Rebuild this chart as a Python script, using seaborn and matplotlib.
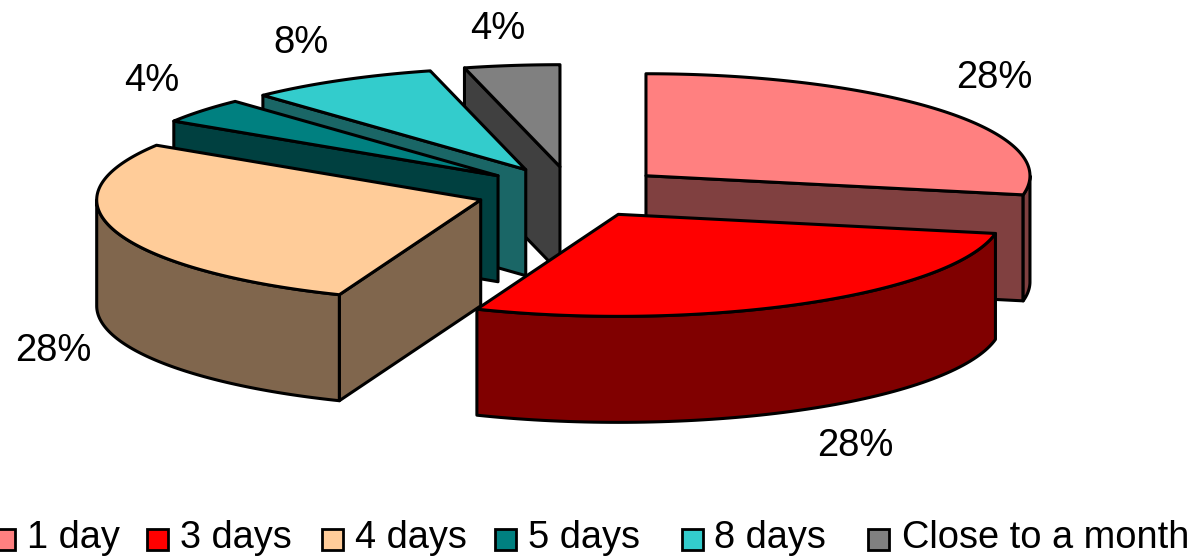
import numpy as np
import matplotlib.pyplot as plt
import seaborn as sns

categories = ['1 day', '3 days', '4 days', '5 days', '8 days', 'Close to a month']
shares = [28, 28, 28, 4, 8, 4]
colors = ['#FF8080', '#FF0000', '#FFCC99', '#008080', '#33CCCC', '#808080']

# pie geometry, in pixels
center = (572, 192)
rx, ry = 384, 102
depth = 106
explode = 0.25

label_xy = [(994, 78), (855, 446), (53, 351), (152, 81), (301, 43), (498, 29)]
legend_x = [-6, 147, 322, 495, 682, 868]
text_x = [27, 180, 355, 528, 714, 902]

sns.set_theme(style='white')
plt.rcParams['font.family'] = ['Liberation Sans', 'DejaVu Sans']
palette = sns.color_palette(colors)

fig = plt.figure(figsize=(12, 5.58), dpi=100)
ax = fig.add_axes([0, 0, 1, 1])
ax.set_xlim(0, 1200)
ax.set_ylim(558, 0)
ax.axis('off')


def point(cx, cy, deg):
    # clockwise from 12 o'clock
    t = np.radians(deg)
    return cx + rx * np.sin(t), cy - ry * np.cos(t)


# slice angles from the values
ends = np.cumsum(shares) / np.sum(shares) * 360
starts = np.concatenate([[0], ends[:-1]])

# back to front
for i in [0, 5, 4, 3, 2, 1]:
    a, b = starts[i], ends[i]
    mid = (a + b) / 2
    cx, cy = point(center[0], center[1], mid)
    cx = center[0] + (cx - center[0]) * explode
    cy = center[1] + (cy - center[1]) * explode
    side = tuple(np.array(palette[i]) * 0.5)

    # flat cut faces that look towards the viewer
    for deg, visible in [(a, np.sin(np.radians(a)) < -1e-6), (b, np.sin(np.radians(b)) > 1e-6)]:
        if visible:
            x, y = point(cx, cy, deg)
            ax.fill([cx, x, x, cx], [cy, y, y + depth, cy + depth],
                    facecolor=side, edgecolor='black', lw=2.2, joinstyle='round')

    # outer wall, only the front half of the ellipse shows
    lo, hi = max(a, 90), min(b, 270)
    if lo < hi:
        arc = np.linspace(lo, hi, 80)
        x, y = point(cx, cy, arc)
        ax.fill(np.r_[x, x[::-1]], np.r_[y, y[::-1] + depth],
                facecolor=side, edgecolor='black', lw=2.2, joinstyle='round')

    # top face
    arc = np.linspace(a, b, 120)
    x, y = point(cx, cy, arc)
    ax.fill(np.r_[cx, x], np.r_[cy, y], facecolor=palette[i], edgecolor='black',
            lw=2.2, joinstyle='round')

for share, (x, y) in zip(shares, label_xy):
    ax.text(x, y, f'{share}%', fontsize=27.5, ha='center', va='center', color='black')

# legend row
for name, color, x, tx in zip(categories, palette, legend_x, text_x):
    ax.add_patch(plt.Rectangle((x, 529), 21, 21, facecolor=color, edgecolor='black', lw=2))
    ax.text(tx, 538, name, fontsize=27.4, ha='left', va='center', color='black')

fig.savefig('out.png', dpi=100)
